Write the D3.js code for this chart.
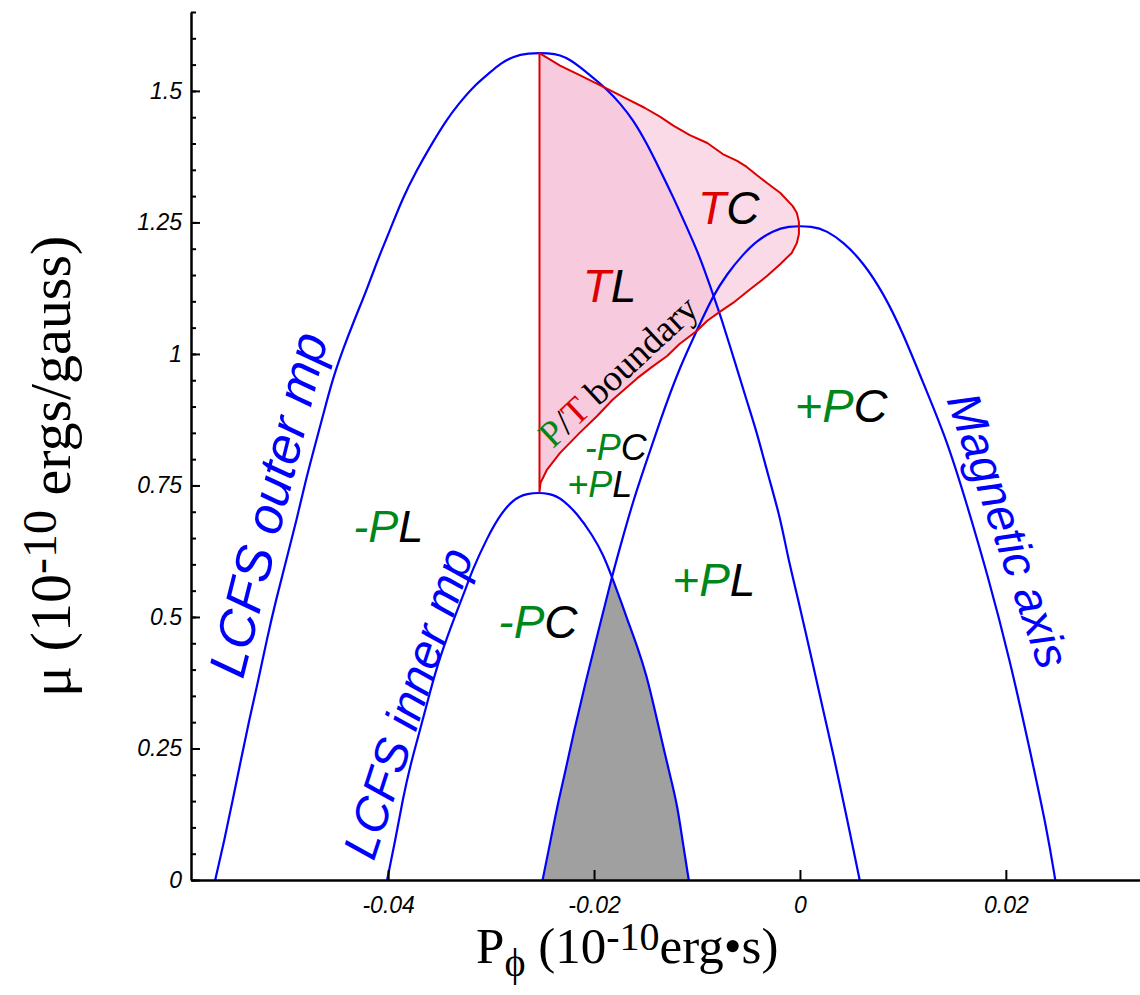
<!DOCTYPE html>
<html>
<head>
<meta charset="utf-8">
<script src="https://cdn.jsdelivr.net/npm/d3@7"></script>
<style>
  body { margin: 0; background: #fff; }
</style>
</head>
<body>
<svg id="chart" width="1140" height="995"></svg>
<script>
// P_phi (10^-10 erg s) and mu (10^-10 erg/gauss)

// LCFS outer midplane
const outerP = [-0.0568, -0.0559, -0.0551, -0.0543, -0.0535, -0.0526, -0.0518, -0.0509, -0.0499, -0.0489,
  -0.0480, -0.0473, -0.0463, -0.0454, -0.0444, -0.0434, -0.0420, -0.0410, -0.0398, -0.0386,
  -0.0372, -0.0359, -0.0343, -0.0332, -0.0318, -0.0301, -0.0291, -0.0279, -0.0265, -0.0243,
  -0.0233, -0.0223, -0.0214, -0.0201, -0.0187, -0.0175, -0.0162, -0.0149, -0.0136, -0.0123,
  -0.0110, -0.0097, -0.0085, -0.0078, -0.0061, -0.0052, -0.0042, -0.0031, -0.0019, -0.0012,
  -0.0003, 0.0013, 0.0022, 0.0032, 0.0046, 0.0052, 0.0058];
const outerMu = [0, 0.076, 0.152, 0.228, 0.304, 0.380, 0.456, 0.532, 0.608, 0.684,
  0.760, 0.812, 0.885, 0.952, 1.008, 1.059, 1.126, 1.180, 1.236, 1.296,
  1.350, 1.395, 1.446, 1.474, 1.507, 1.535, 1.552, 1.565, 1.572, 1.572,
  1.568, 1.559, 1.546, 1.525, 1.502, 1.477, 1.445, 1.401, 1.350, 1.298,
  1.241, 1.184, 1.116, 1.078, 0.971, 0.913, 0.852, 0.770, 0.688, 0.616,
  0.544, 0.407, 0.327, 0.243, 0.114, 0.057, 0];

// LCFS inner midplane
const innerP = [-0.0401, -0.0393, -0.0386, -0.0378, -0.0369, -0.0361, -0.0353, -0.0343, -0.0333, -0.0325,
  -0.0318, -0.0304, -0.0291, -0.0279, -0.0267, -0.0241, -0.0230, -0.0217, -0.0201, -0.0191,
  -0.0183, -0.0175, -0.0168, -0.0158, -0.0149, -0.0140, -0.0131, -0.0125, -0.0119, -0.0114, -0.0108];
const innerMu = [0, 0.076, 0.152, 0.222, 0.285, 0.345, 0.403, 0.460, 0.512, 0.552,
  0.590, 0.650, 0.695, 0.722, 0.736, 0.736, 0.722, 0.698, 0.654, 0.618,
  0.578, 0.536, 0.497, 0.444, 0.390, 0.315, 0.238, 0.190, 0.140, 0.074, 0];

// magnetic axis
const axisP = [-0.0250, -0.0243, -0.0236, -0.0228, -0.0220, -0.0207, -0.0194, -0.0183, -0.0172, -0.0162,
  -0.0152, -0.0136, -0.0117, -0.0094, -0.0085, -0.0071, -0.0055, -0.0042, -0.0026, -0.0013,
  0.0013, 0.0026, 0.0042, 0.0061, 0.0081, 0.0100, 0.0119, 0.0143, 0.0162, 0.0182,
  0.0204, 0.0223, 0.0240, 0.0248];
const axisMu = [0, 0.067, 0.138, 0.205, 0.279, 0.386, 0.487, 0.574, 0.652, 0.720,
  0.779, 0.872, 0.975, 1.070, 1.108, 1.152, 1.190, 1.215, 1.234, 1.243,
  1.243, 1.234, 1.213, 1.175, 1.116, 1.040, 0.948, 0.835, 0.715, 0.582,
  0.418, 0.250, 0.095, 0];

// trapped region, closed by the P/T boundary
const trapP = [-0.0253, -0.0253, -0.0233, -0.0214, -0.0187, -0.0168, -0.0151, -0.0136, -0.0123, -0.0107,
  -0.0090, -0.0075, -0.0061, -0.0052, -0.0042, -0.0032, -0.0019, -0.0007, -0.0003, -0.0001,
  -0.0001, -0.0003, -0.0008, -0.0019, -0.0032, -0.0049, -0.0065, -0.0078, -0.0090, -0.0100,
  -0.0117, -0.0129, -0.0144, -0.0158, -0.0182, -0.0197, -0.0214, -0.0233, -0.0246, -0.0252];
const trapMu = [0.738, 1.572, 1.548, 1.530, 1.504, 1.485, 1.468, 1.451, 1.434, 1.416,
  1.401, 1.380, 1.367, 1.356, 1.340, 1.325, 1.306, 1.281, 1.268, 1.251,
  1.228, 1.211, 1.192, 1.171, 1.148, 1.122, 1.097, 1.080, 1.063, 1.044,
  1.019, 0.996, 0.975, 0.954, 0.913, 0.882, 0.850, 0.812, 0.779, 0.755];

const xTicks = [-0.04, -0.02, 0, 0.02];
const xTickLabels = ["-0.04", "-0.02", "0", "0.02"];
const yTicks = [0, 0.25, 0.5, 0.75, 1, 1.25, 1.5];
const yTickLabels = ["0", "0.25", "0.5", "0.75", "1", "1.25", "1.5"];
const yMinor = d3.range(0, 34).map(i => +(i * 0.05).toFixed(2));

const svg = d3.select("#chart");
const blue = "#0000ff", red = "#dd0000", green = "#00871a";
const sans = "'Liberation Sans', Arial, Helvetica, sans-serif";
const serif = "'Liberation Serif', 'Times New Roman', Times, serif";

const x = d3.scaleLinear().domain([-0.05915, 0.03303]).range([191, 1140]);
const y = d3.scaleLinear().domain([0, 1.65]).range([880, 12]);

const zip = (ps, ms) => ps.map((p, i) => [p, ms[i]]);
const outer = zip(outerP, outerMu);
const inner = zip(innerP, innerMu);
const magAxis = zip(axisP, axisMu);
const trap = zip(trapP, trapMu);

const line = d3.line().x(d => x(d[0])).y(d => y(d[1])).curve(d3.curveBasis);
const area = d3.area().x(d => x(d[0])).y0(y(0)).y1(d => y(d[1])).curve(d3.curveBasis);
const loop = d3.line().x(d => x(d[0])).y(d => y(d[1])).curve(d3.curveLinearClosed);

const defs = svg.append("defs");
defs.append("clipPath").attr("id", "in-outer").append("path").attr("d", area(outer));
defs.append("clipPath").attr("id", "in-axis").append("path").attr("d", area(magAxis));

// pink trapped region, darker where it lies inside the outer LCFS curve
svg.append("path").attr("d", loop(trap)).attr("fill", "#f9dae6");
svg.append("path").attr("d", loop(trap)).attr("fill", "#f7cadd")
  .attr("clip-path", "url(#in-outer)");

// grey region: under both the inner LCFS curve and the magnetic axis curve
svg.append("path").attr("d", area(inner)).attr("fill", "#a0a0a0")
  .attr("clip-path", "url(#in-axis)");

[outer, inner, magAxis].forEach(c => {
  svg.append("path").attr("d", line(c)).attr("fill", "none")
    .attr("stroke", blue).attr("stroke-width", 2.2);
});
svg.append("path").attr("d", loop(trap)).attr("fill", "none")
  .attr("stroke", red).attr("stroke-width", 2).attr("stroke-linejoin", "round");

// axes
const xAxis = svg.append("g").attr("transform", `translate(0,${y(0)})`)
  .call(d3.axisBottom(x).tickValues(xTicks).tickFormat((d, i) => xTickLabels[i])
    .tickSizeInner(-10).tickSizeOuter(0).tickPadding(17));
const yMinorAxis = svg.append("g").attr("transform", `translate(${x.range()[0]},0)`)
  .call(d3.axisLeft(y).tickValues(yMinor).tickFormat("").tickSizeInner(-5).tickSizeOuter(0));
yMinorAxis.select(".domain").remove();
const yAxis = svg.append("g").attr("transform", `translate(${x.range()[0]},0)`)
  .call(d3.axisLeft(y).tickValues(yTicks).tickFormat((d, i) => yTickLabels[i])
    .tickSizeInner(-9).tickSizeOuter(0).tickPadding(9));

[xAxis, yAxis, yMinorAxis].forEach(g => {
  g.select(".domain").attr("stroke-width", 2.5);
  g.selectAll(".tick line").attr("stroke-width", 2);
  g.selectAll(".tick text").attr("font-family", sans).attr("font-style", "italic")
    .attr("font-size", 23).attr("fill", "#000");
});

// region labels
function label(parts, p, mu, size, angle, family, italic) {
  const t = svg.append("text")
    .attr("transform", `translate(${x(p)},${y(mu)}) rotate(${angle || 0})`)
    .attr("font-family", family || sans)
    .attr("font-style", italic === false ? "normal" : "italic")
    .attr("font-size", size);
  parts.forEach(([s, c]) => t.append("tspan").attr("fill", c).text(s));
}
label([["T", red], ["C", "#000"]], -0.0099, 1.247, 46);
label([["T", red], ["L", "#000"]], -0.0211, 1.099, 46);
label([["-P", green], ["C", "#000"]], -0.0209, 0.798, 36);
label([["+P", green], ["L", "#000"]], -0.0226, 0.728, 36);
label([["-P", green], ["L", "#000"]], -0.0434, 0.643, 45);
label([["-P", green], ["C", "#000"]], -0.0293, 0.460, 46);
label([["+P", green], ["L", "#000"]], -0.0124, 0.540, 46);
label([["+P", green], ["C", "#000"]], -0.0005, 0.871, 47);
label([["LCFS outer mp", blue]], -0.0541, 0.380, 52, -76);
label([["LCFS inner mp", blue]], -0.0414, 0.034, 48, -72);
label([["Magnetic axis", blue]], 0.0142, 0.913, 47, 71);
label([["P", green], ["/", "#000"], ["T", red], [" boundary", "#000"]], -0.0240, 0.819, 37, -43, serif, false);

// axis titles
const xt = svg.append("text").attr("x", 476).attr("y", 963)
  .attr("font-family", serif).attr("font-size", 51);
xt.append("tspan").text("P");
xt.append("tspan").attr("font-size", 40).attr("dy", 13).text("\u03d5");
xt.append("tspan").attr("dy", -13).text(" (10");
xt.append("tspan").attr("font-size", 40).attr("dy", -13).text("-10");
xt.append("tspan").attr("dy", 13).text("erg\u2022s)");

const yt = svg.append("text").attr("transform", "translate(70,697) rotate(-90)")
  .attr("font-family", serif).attr("font-size", 58);
yt.append("tspan").text("\u03bc (10");
yt.append("tspan").attr("font-size", 48).attr("dy", -14).text("-10");
yt.append("tspan").attr("dy", 14).text(" ergs/gauss)");
</script>
</body>
</html>
